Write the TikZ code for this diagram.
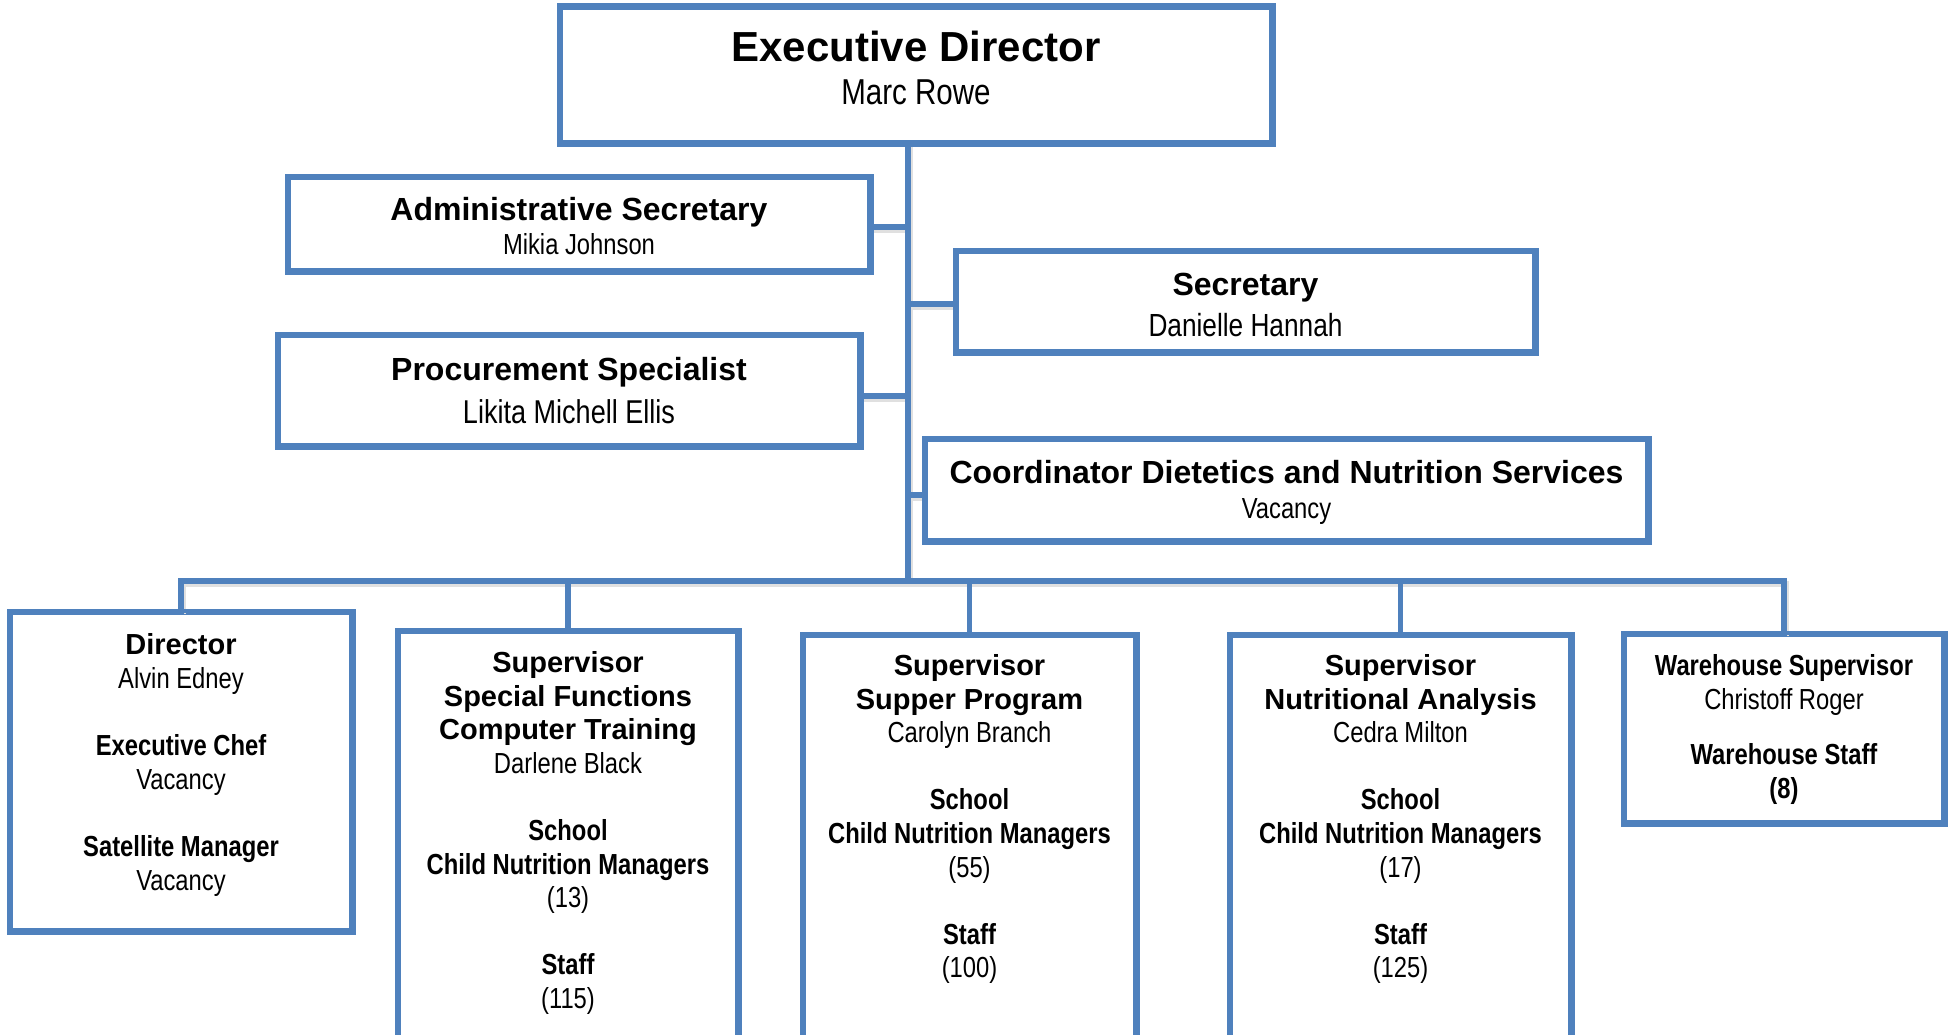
\documentclass[tikz,border=0pt]{standalone}
\usepackage{fontspec}
\setmainfont{Liberation Sans}
\newfontfamily\nar[FakeStretch=0.82]{Liberation Sans}
\definecolor{ob}{HTML}{4F81BD}
\tikzset{
  box/.style={draw=ob, line width=4.5pt, fill=white, inner sep=0pt, rectangle},
  conn/.style={draw=ob, line width=5.5pt, line cap=rect},
  shad/.style={draw=black!12, line width=6pt},
  txt/.style={anchor=base, inner sep=0pt},
  edt/.style={txt, font=\fontsize{42}{48}\selectfont\bfseries},
  edn/.style={txt, font=\nar\fontsize{36}{42}\selectfont},
  tt/.style={txt, font=\fontsize{32}{38}\selectfont\bfseries},
  tn/.style={txt, font=\nar\fontsize{#1}{36}\selectfont},
  tn/.default=29,
  bw/.style={txt, font=\fontsize{29}{34}\selectfont\bfseries},
  bn/.style={txt, font=\nar\fontsize{29}{34}\selectfont\bfseries},
  br/.style={txt, font=\nar\fontsize{29}{34}\selectfont},
}
\begin{document}
\begin{tikzpicture}[x=1pt, y=-1pt]
\useasboundingbox (0,0) rectangle (1954,1034);
\clip (0,0) rectangle (1954,1034);
\fill[white] (0,0) rectangle (1954,1034);

\coordinate (bus) at (908,581);

\node[box, minimum width=710pt, minimum height=134.5pt] (ed) at (916,74.75) {};
\node[box, minimum width=580pt, minimum height=92pt] (adm) at (579,224) {};
\node[box, minimum width=577pt, minimum height=99pt] (sec) at (1245.5,301.5) {};
\node[box, minimum width=580pt, minimum height=109pt] (proc) at (569,390.5) {};
\node[box, minimum width=721pt, minimum height=100pt] (coord) at (1286.5,490) {};
\node[box, minimum width=340pt, minimum height=317pt] (dir) at (181,771.5) {};
\node[box, minimum width=338pt, minimum height=438pt] (ssf) at (568,851) {};
\node[box, minimum width=331pt, minimum height=434pt] (sup) at (969.5,853) {};
\node[box, minimum width=339pt, minimum height=434pt] (nut) at (1400.5,853) {};
\node[box, minimum width=318pt, minimum height=187pt] (whs) at (1784,728.5) {};

% soft shadows of the connectors
\begin{scope}[transform canvas={shift={(1.5pt,-3pt)}}]
\draw[shad] (ed.south -| bus) -- (bus);
\draw[shad] ([yshift=-3pt]adm.east) -- ([yshift=-3pt]adm.east -| bus);
\draw[shad] ([yshift=-2.5pt]sec.west) -- ([yshift=-2.5pt]sec.west -| bus);
\draw[shad] ([yshift=-5.5pt]proc.east) -- ([yshift=-5.5pt]proc.east -| bus);
\draw[shad] ([yshift=-5pt]coord.west) -- ([yshift=-5pt]coord.west -| bus);
\draw[shad] (dir.north) -- (dir.north |- bus) -- (whs.north |- bus) -- (whs.north);
\end{scope}

% connectors
\draw[conn] (ed.south -| bus) -- (bus);
\draw[conn] ([yshift=-3pt]adm.east) -- ([yshift=-3pt]adm.east -| bus);
\draw[conn] ([yshift=-2.5pt]sec.west) -- ([yshift=-2.5pt]sec.west -| bus);
\draw[conn] ([yshift=-5.5pt]proc.east) -- ([yshift=-5.5pt]proc.east -| bus);
\draw[conn] ([yshift=-5pt]coord.west) -- ([yshift=-5pt]coord.west -| bus);
\draw[conn] (dir.north) -- (dir.north |- bus) -- (whs.north |- bus) -- (whs.north);
\draw[conn] (ssf.north) -- (ssf.north |- bus);
\draw[conn] (sup.north) -- (sup.north |- bus);
\draw[conn] (nut.north) -- (nut.north |- bus);

% box borders on top
\foreach \b in {ed,adm,sec,proc,coord,dir,ssf,sup,nut,whs}
  \draw[ob, line width=4.5pt] (\b.north west) rectangle (\b.south east);

% texts
\node[edt] (ed1) at (916,61) {Executive Director};
\node[edn] (ed2) at (916,104) {Marc Rowe};

\node[tt] (adm1) at (579,220.5) {Administrative Secretary};
\node[tn=29] (adm2) at (579,254) {Mikia Johnson};

\node[tt] (sec1) at (1245.5,295.5) {Secretary};
\node[tn=32] (sec2) at (1245.5,336.5) {Danielle Hannah};

\node[tt] (proc1) at (569,380.5) {Procurement Specialist};
\node[tn=33] (proc2) at (569,423) {Likita Michell Ellis};

\node[tt] (co1) at (1286.5,483.5) {Coordinator Dietetics and Nutrition Services};
\node[tn=29] (co2) at (1286.5,518.4) {Vacancy};

\node[bw] (d1) at (181,654.4) {Director};
\node[br] (d2) at (181,688.4) {Alvin Edney};
\node[bn] (d3) at (181,755.4) {Executive Chef};
\node[br] (d4) at (181,789.4) {Vacancy};
\node[bn] (d5) at (181,856.4) {Satellite Manager};
\node[br] (d6) at (181,890.4) {Vacancy};

\node[bw] (s1) at (568,672.4) {Supervisor};
\node[bw] (s2) at (568,706) {Special Functions};
\node[bw] (s3) at (568,739.6) {Computer Training};
\node[br] (s4) at (568,773.2) {Darlene Black};
\node[bn] (s5) at (568,840.4) {School};
\node[bn] (s6) at (568,874) {Child Nutrition Managers};
\node[br] (s7) at (568,907.6) {(13)};
\node[bn] (s8) at (568,974.8) {Staff};
\node[br] (s9) at (568,1008.4) {(115)};

\node[bw] (p1) at (969.5,675.4) {Supervisor};
\node[bw] (p2) at (969.5,709) {Supper Program};
\node[br] (p3) at (969.5,742.6) {Carolyn Branch};
\node[bn] (p4) at (969.5,809.8) {School};
\node[bn] (p5) at (969.5,843.4) {Child Nutrition Managers};
\node[br] (p6) at (969.5,877) {(55)};
\node[bn] (p7) at (969.5,944.2) {Staff};
\node[br] (p8) at (969.5,977.8) {(100)};

\node[bw] (n1) at (1400.5,675.4) {Supervisor};
\node[bw] (n2) at (1400.5,709) {Nutritional Analysis};
\node[br] (n3) at (1400.5,742.6) {Cedra Milton};
\node[bn] (n4) at (1400.5,809.8) {School};
\node[bn] (n5) at (1400.5,843.4) {Child Nutrition Managers};
\node[br] (n6) at (1400.5,877) {(17)};
\node[bn] (n7) at (1400.5,944.2) {Staff};
\node[br] (n8) at (1400.5,977.8) {(125)};

\node[bn] (w1) at (1784,675.4) {Warehouse Supervisor};
\node[br] (w2) at (1784,709.4) {Christoff Roger};
\node[bn] (w3) at (1784,764.4) {Warehouse Staff};
\node[bn] (w4) at (1784,798.4) {(8)};
\end{tikzpicture}
\end{document}
